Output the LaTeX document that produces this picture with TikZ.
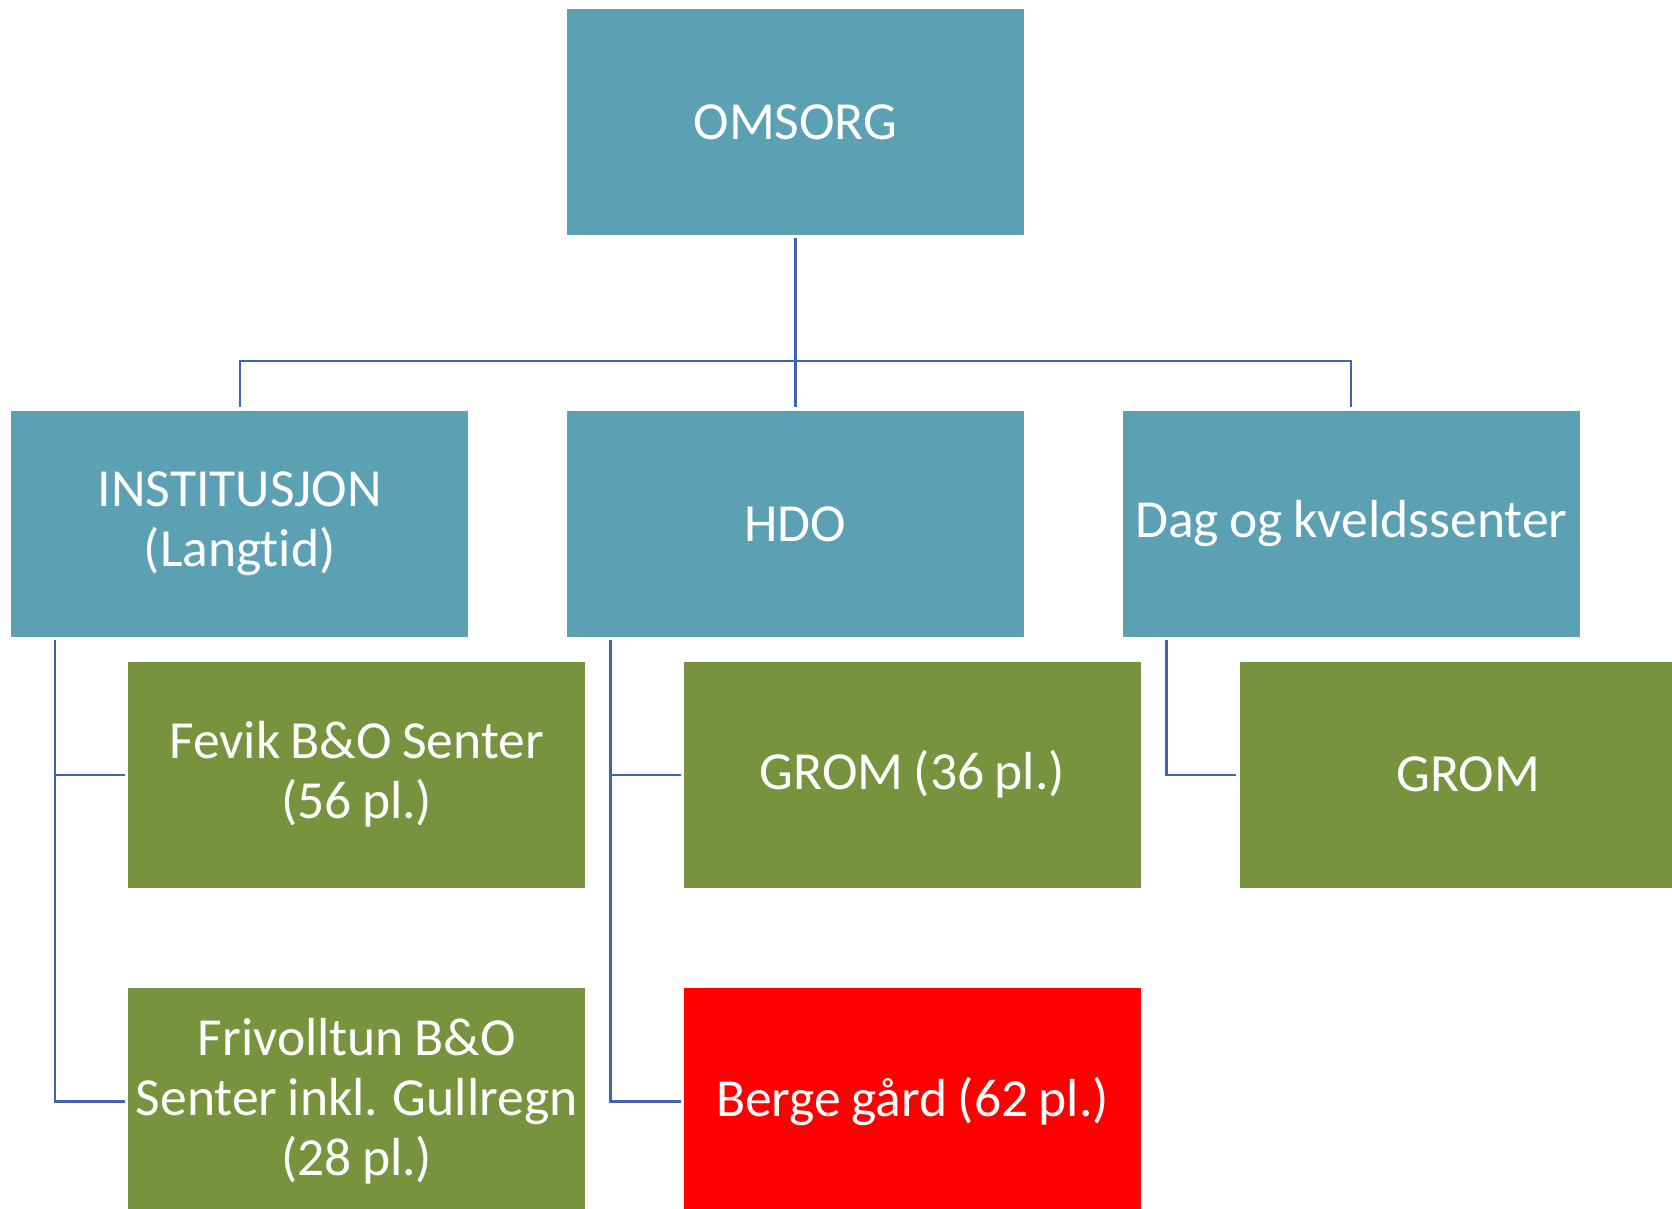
\documentclass[tikz,border=0pt]{standalone}
\usepackage{fontspec}
\setmainfont{Carlito}[Ligatures=NoCommon, WordSpace=0.85]
\usetikzlibrary{positioning}
\definecolor{tealbox}{RGB}{91,161,179}
\definecolor{olivebox}{RGB}{119,147,61}
\definecolor{linkblue}{RGB}{62,100,178}
\tikzset{
    topbox/.style={rectangle, fill=tealbox, text=white, align=center, minimum width=228.5pt, minimum height=113pt, inner sep=0pt, font=\fontsize{26.8}{30}\selectfont},
    subbox/.style={topbox, fill=olivebox},
    alertbox/.style={topbox, fill=red},
    link/.style={draw=linkblue, line width=1.1pt}
}
\begin{document}
\begin{tikzpicture}

    \useasboundingbox (-397.75pt,61pt) rectangle (438.25pt,-543.5pt);
    \clip (-397.75pt,61pt) rectangle (438.25pt,-543.5pt);

    % Top
    \node[topbox] (omsorg) at (0,0) {OMSORG};

    % Row 2
    \node[topbox, below=87.5pt of omsorg] (hdo) {HDO};
    \node[topbox, left=49pt of hdo] (inst) {INSTITUSJON\\(Langtid)};
    \node[topbox, right=49pt of hdo] (dag) {Dag og kveldssenter};

    % Row 3
    \node[subbox, below right=12pt and 58.5pt of inst.south west] (fevik) {Fevik B\&O Senter\\(56 pl.)};
    \node[subbox, below right=12pt and 58.5pt of hdo.south west] (grom36) {GROM (36 pl.)};
    \node[subbox, below right=12pt and 58.5pt of dag.south west] (grom) {GROM};

    % Row 4
    \node[subbox, below=50pt of fevik] (frivolltun) {Frivolltun B\&O\\Senter inkl. Gullregn\\(28 pl.)};
    \node[alertbox, below=50pt of grom36] (berge) {Berge gård (62 pl.)};

    % Links (top)
    \draw[link, shorten <=1.5pt] (omsorg.south) -- ++(0,-63pt) coordinate (split);
    \draw[link, shorten >=1.5pt] (split) -| (inst.north);
    \draw[link, shorten >=1.5pt] (split) -- (hdo.north);
    \draw[link, shorten >=1.5pt] (split) -| (dag.north);

    % Links (sub units)
    \draw[link, shorten <=1.5pt, shorten >=1.5pt] ([xshift=22pt]inst.south west) |- (frivolltun.west);
    \draw[link, shorten >=1.5pt] ([xshift=22pt]inst.south west |- fevik.west) -- (fevik.west);
    \draw[link, shorten <=1.5pt, shorten >=1.5pt] ([xshift=22pt]hdo.south west) |- (berge.west);
    \draw[link, shorten >=1.5pt] ([xshift=22pt]hdo.south west |- grom36.west) -- (grom36.west);
    \draw[link, shorten <=1.5pt, shorten >=1.5pt] ([xshift=22pt]dag.south west) |- (grom.west);

\end{tikzpicture}
\end{document}
